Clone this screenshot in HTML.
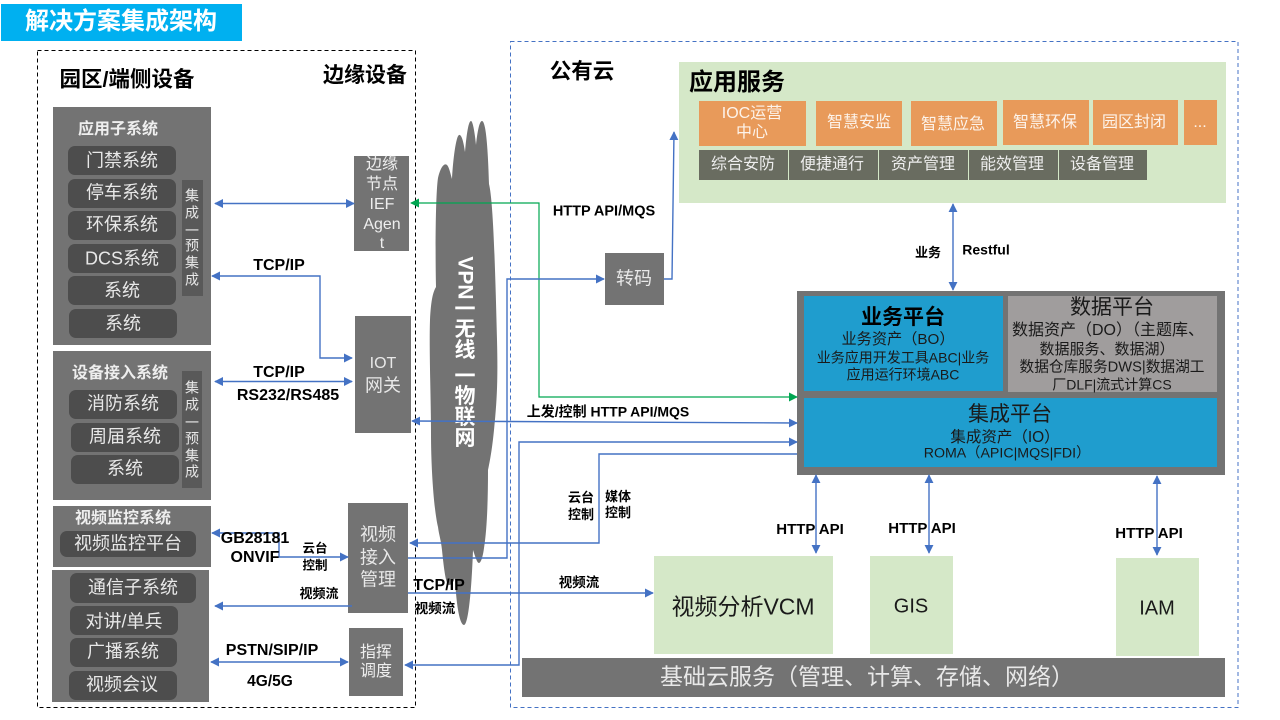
<!DOCTYPE html>
<html><head><meta charset="utf-8"><style>
html,body{margin:0;padding:0;background:#fff;width:1280px;height:720px;overflow:hidden}
svg{display:block}
text{font-family:"Liberation Sans","Noto Sans CJK SC",sans-serif;text-anchor:middle;dominant-baseline:central;transform:translateY(0.7px)}
.g{fill:#737373}.p{fill:#4d4d4d}.v{fill:#595959}
.w{fill:#e8e8e8;font-size:18px}
.h{fill:#eee;font-size:16px;font-weight:bold}
.vt{fill:#e8e8e8;font-size:14px}
.b{fill:#000;font-weight:bold}
.o{fill:#E89A5A}.d{fill:#696C60}
.ot{fill:#fdf3ea;font-size:16px}.dt{fill:#eee;font-size:16px}
.l{fill:#D5E8C8}
.k{fill:#1a1a1a}
.c{fill:none;stroke:#4472C4;stroke-width:1.4}
.gc{fill:none;stroke:#00A651;stroke-width:1.2}
</style></head><body>
<svg width="1280" height="720" viewBox="0 0 1280 720" xmlns="http://www.w3.org/2000/svg">
<defs>
<marker id="a" viewBox="0 0 10 10" refX="9" refY="5" markerWidth="9" markerHeight="9" markerUnits="userSpaceOnUse" orient="auto-start-reverse"><path d="M0 0L10 5L0 10z" fill="#4472C4"/></marker>
<marker id="g" viewBox="0 0 10 10" refX="9" refY="5" markerWidth="9" markerHeight="9" markerUnits="userSpaceOnUse" orient="auto-start-reverse"><path d="M0 0L10 5L0 10z" fill="#00A651"/></marker>
</defs>

<rect x="1" y="4" width="241" height="37" fill="#00B0F0"/>
<text x="121" y="21" fill="#fff" font-size="24" font-weight="bold">解决方案集成架构</text>

<rect x="37.5" y="50.5" width="378" height="657" fill="none" stroke="#000" stroke-dasharray="4 3"/>
<rect x="510.5" y="41.5" width="727.5" height="666" fill="none" stroke="#4472C4" stroke-dasharray="4 3"/>

<text class="b" x="127" y="79" font-size="21.5">园区/端侧设备</text>
<text class="b" x="365" y="75" font-size="21">边缘设备</text>
<text class="b" x="582" y="71" font-size="21.5">公有云</text>

<!-- block 1 -->
<rect class="g" x="53" y="107" width="158" height="238"/>
<text class="h" x="118" y="129">应用子系统</text>
<rect class="p" x="68" y="146" width="108" height="29" rx="7"/><text class="w" x="122" y="160">门禁系统</text>
<rect class="p" x="68" y="179" width="108" height="29" rx="7"/><text class="w" x="122" y="192">停车系统</text>
<rect class="p" x="68" y="211" width="108" height="29" rx="7"/><text class="w" x="122" y="224">环保系统</text>
<rect class="p" x="68" y="244" width="108" height="29" rx="7"/><text class="w" x="122" y="258">DCS系统</text>
<rect class="p" x="68" y="276" width="108" height="29" rx="7"/><text class="w" x="122" y="290">系统</text>
<rect class="p" x="69" y="309" width="108" height="29" rx="7"/><text class="w" x="123" y="323">系统</text>
<rect class="v" x="182" y="180" width="21" height="116"/>
<text class="vt" x="192" y="195">集</text><text class="vt" x="192" y="212">成</text><text class="vt" x="192" y="230">一</text><text class="vt" x="192" y="245">预</text><text class="vt" x="192" y="262">集</text><text class="vt" x="192" y="279">成</text>

<!-- block 2 -->
<rect class="g" x="53" y="351" width="158" height="149"/>
<text class="h" x="120" y="373">设备接入系统</text>
<rect class="p" x="69" y="390" width="108" height="29" rx="7"/><text class="w" x="123" y="403">消防系统</text>
<rect class="p" x="71" y="423" width="108" height="29" rx="7"/><text class="w" x="125" y="436">周届系统</text>
<rect class="p" x="71" y="455" width="108" height="29" rx="7"/><text class="w" x="125" y="468">系统</text>
<rect class="v" x="182" y="371" width="20" height="117"/>
<text class="vt" x="192" y="387">集</text><text class="vt" x="192" y="404">成</text><text class="vt" x="192" y="422">一</text><text class="vt" x="192" y="438">预</text><text class="vt" x="192" y="455">集</text><text class="vt" x="192" y="471">成</text>

<!-- block 3 -->
<rect class="g" x="53" y="506" width="158" height="61"/>
<text class="h" x="123" y="518">视频监控系统</text>
<rect class="p" x="60" y="531" width="136" height="26" rx="7"/><text class="w" x="128" y="543">视频监控平台</text>

<!-- block 4 -->
<rect class="g" x="52" y="570" width="157" height="132"/>
<rect class="p" x="70" y="573" width="126" height="30" rx="7"/><text class="w" x="133" y="587">通信子系统</text>
<rect class="p" x="70" y="606" width="108" height="29" rx="7"/><text class="w" x="124" y="621">对讲/单兵</text>
<rect class="p" x="70" y="638" width="107" height="29" rx="7"/><text class="w" x="123" y="651">广播系统</text>
<rect class="p" x="69" y="671" width="108" height="29" rx="7"/><text class="w" x="122" y="684">视频会议</text>

<!-- edge nodes -->
<rect class="g" x="354" y="156" width="55" height="95"/>
<text class="dt" x="382" y="164">边缘</text><text class="dt" x="382" y="184">节点</text><text class="dt" x="382" y="204">IEF</text><text class="dt" x="382" y="224">Agen</text><text class="dt" x="382" y="243">t</text>
<rect class="g" x="355" y="316" width="56" height="117"/>
<text class="w" x="383" y="363" style="font-size:16px">IOT</text><text class="w" x="383" y="385">网关</text>
<rect class="g" x="348" y="503" width="60" height="110"/>
<text class="w" x="378" y="534">视频</text><text class="w" x="378" y="557">接入</text><text class="w" x="378" y="579">管理</text>
<rect class="g" x="349" y="628" width="54" height="68"/>
<text class="dt" x="376" y="652">指挥</text><text class="dt" x="376" y="671">调度</text>

<!-- cloud -->
<path class="g" d="M436 287C435 240 436 190 438 178C441 165 445 163 447 165C449 167 450 172 452 179C453 160 456 136 459 135C462 134 464 145 465 152C466 140 468 121 471 121C473 121 475 135 476 145C477 135 479 121 482 121C486 121 488 150 489 184C493 200 495 260 497 340C498 380 497 400 494 430C492 450 490 460 488 470C488 500 487 530 484 548C483 556 481 563 479 563C477 563 475 556 473 550C472 580 469 625 464 625C459 625 456 600 455 578C453 583 451 585 449 585C446 585 444 570 442 550C441 540 439 535 438 527C434 510 431 470 431 433C431 400 429 350 430 320C431 300 433 292 436 287Z"/>
<text x="465" y="278" fill="#fff" font-size="21" font-weight="bold" style="transform-origin:465px 278px;transform:rotate(90deg)">VPN</text>
<text x="465" y="309" fill="#fff" font-size="21" font-weight="bold">一</text>
<text x="465" y="329" fill="#fff" font-size="21" font-weight="bold">无</text>
<text x="465" y="350" fill="#fff" font-size="21" font-weight="bold">线</text>
<text x="465" y="376" fill="#fff" font-size="21" font-weight="bold">一</text>
<text x="465" y="396" fill="#fff" font-size="21" font-weight="bold">物</text>
<text x="465" y="417" fill="#fff" font-size="21" font-weight="bold">联</text>
<text x="465" y="438" fill="#fff" font-size="21" font-weight="bold">网</text>

<rect class="g" x="605" y="253" width="59" height="52"/>
<text class="w" x="634" y="278">转码</text>

<!-- app services -->
<rect class="l" x="679" y="62" width="547" height="141"/>
<text class="b" x="737" y="82" font-size="24">应用服务</text>
<rect class="o" x="699" y="101" width="107" height="45"/><text class="ot" x="752" y="113">IOC运营</text><text class="ot" x="752" y="132">中心</text>
<rect class="o" x="816" y="101" width="86" height="45"/><text class="ot" x="859" y="122">智慧安监</text>
<rect class="o" x="911" y="101" width="86" height="45"/><text class="ot" x="953" y="124">智慧应急</text>
<rect class="o" x="1003" y="100" width="86" height="45"/><text class="ot" x="1045" y="122">智慧环保</text>
<rect class="o" x="1093" y="100" width="85" height="45"/><text class="ot" x="1134" y="122">园区封闭</text>
<rect class="o" x="1184" y="100" width="33" height="45"/><text class="ot" x="1200" y="122">...</text>
<rect class="d" x="699" y="150" width="89" height="30"/><text class="dt" x="743" y="164">综合安防</text>
<rect class="d" x="789" y="150" width="89" height="30"/><text class="dt" x="832" y="164">便捷通行</text>
<rect class="d" x="879" y="150" width="89" height="30"/><text class="dt" x="923" y="164">资产管理</text>
<rect class="d" x="969" y="150" width="89" height="30"/><text class="dt" x="1012" y="164">能效管理</text>
<rect class="d" x="1059" y="150" width="88" height="30"/><text class="dt" x="1102" y="164">设备管理</text>

<!-- platforms -->
<rect class="g" x="797" y="291" width="428" height="184"/>
<rect x="804" y="296" width="199" height="95" fill="#1F9DCE"/>
<rect x="1008" y="296" width="209" height="96" fill="#A09D9D"/>
<rect x="804" y="398" width="413" height="69" fill="#1F9DCE"/>
<text class="b" x="903" y="317" font-size="21">业务平台</text>
<text class="k" x="898" y="339" font-size="15.2">业务资产（BO）</text>
<text class="k" x="903" y="357" font-size="14">业务应用开发工具ABC|业务</text>
<text class="k" x="903" y="374" font-size="14">应用运行环境ABC</text>
<text class="k" x="1112" y="307" font-size="21">数据平台</text>
<text class="k" x="1108" y="330" font-size="16">数据资产（DO）（主题库、</text>
<text class="k" x="1107" y="349" font-size="15">数据服务、数据湖）</text>
<text class="k" x="1112" y="367" font-size="14.7">数据仓库服务DWS|数据湖工</text>
<text class="k" x="1112" y="384" font-size="14">厂DLF|流式计算CS</text>
<text class="k" x="1010" y="414" font-size="21">集成平台</text>
<text class="k" x="1005" y="437" font-size="15.5">集成资产（IO）</text>
<text class="k" x="1007" y="453" font-size="14.2">ROMA（APIC|MQS|FDI）</text>

<!-- lower services -->
<rect class="l" x="654" y="556" width="179" height="98"/>
<text class="k" x="743" y="606" font-size="23">视频分析VCM</text>
<rect class="l" x="870" y="556" width="83" height="98"/>
<text class="k" x="911" y="606" font-size="20">GIS</text>
<rect class="l" x="1116" y="558" width="83" height="98"/>
<text class="k" x="1157" y="608" font-size="20">IAM</text>
<rect class="g" x="522" y="658" width="703" height="39"/>
<text x="867" y="676" fill="#e8e8e8" font-size="23">基础云服务（管理、计算、存储、网络）</text>

<!-- connectors -->
<path class="c" d="M215 203.5H354" marker-start="url(#a)" marker-end="url(#a)"/>
<path class="c" d="M212 276H320V358H352" marker-start="url(#a)" marker-end="url(#a)"/>
<path class="c" d="M215 381.5H352" marker-start="url(#a)" marker-end="url(#a)"/>
<path class="c" d="M212 533H279V557H348" marker-start="url(#a)" marker-end="url(#a)"/>
<path class="c" d="M352 606H215" marker-end="url(#a)"/>
<path class="c" d="M211 662H348" marker-start="url(#a)" marker-end="url(#a)"/>
<path class="gc" d="M411 203H539V397H797" marker-start="url(#g)" marker-end="url(#g)"/>
<path class="c" d="M408 558H507V279H604" marker-end="url(#a)"/>
<path class="c" d="M664 279H672L674 132" marker-end="url(#a)"/>
<path class="c" d="M412 421L797 423" marker-start="url(#a)" marker-end="url(#a)"/>
<path class="c" d="M797 442H519V665H405" marker-end="url(#a)" marker-start="url(#a)"/>
<path class="c" d="M797 454H599V543H410" marker-end="url(#a)"/>
<path class="c" d="M408 593H653" marker-end="url(#a)"/>
<path class="c" d="M953 204V290" marker-start="url(#a)" marker-end="url(#a)"/>
<path class="c" d="M816 475V553" marker-start="url(#a)" marker-end="url(#a)"/>
<path class="c" d="M929 475V553" marker-start="url(#a)" marker-end="url(#a)"/>
<path class="c" d="M1157 476V555" marker-start="url(#a)" marker-end="url(#a)"/>

<!-- connector labels -->
<text class="b" x="279" y="265" font-size="16">TCP/IP</text>
<text class="b" x="279" y="372" font-size="16">TCP/IP</text>
<text class="b" x="288" y="395" font-size="16">RS232/RS485</text>
<text class="b" x="255" y="538" font-size="16">GB28181</text>
<text class="b" x="255" y="557" font-size="16">ONVIF</text>
<text class="b" x="315" y="548" font-size="12.5">云台</text>
<text class="b" x="315" y="565" font-size="12.5">控制</text>
<text class="b" x="319" y="593" font-size="13">视频流</text>
<text class="b" x="272" y="650" font-size="16">PSTN/SIP/IP</text>
<text class="b" x="270" y="681" font-size="15.5">4G/5G</text>
<text class="b" x="604" y="211" font-size="14.5">HTTP API/MQS</text>
<text class="b" x="608" y="411" font-size="14">上发/控制 HTTP API/MQS</text>
<text class="b" x="581" y="497" font-size="13">云台</text>
<text class="b" x="581" y="514" font-size="13">控制</text>
<text class="b" x="618" y="496" font-size="13">媒体</text>
<text class="b" x="618" y="512" font-size="13">控制</text>
<text class="b" x="439" y="585" font-size="16">TCP/IP</text>
<text class="b" x="435" y="608" font-size="13.5">视频流</text>
<text class="b" x="579" y="582" font-size="13.5">视频流</text>
<text class="b" x="928" y="252" font-size="13">业务</text>
<text class="b" x="986" y="249" font-size="14">Restful</text>
<text class="b" x="810" y="529" font-size="15">HTTP API</text>
<text class="b" x="922" y="528" font-size="15">HTTP API</text>
<text class="b" x="1149" y="533" font-size="15">HTTP API</text>
</svg>
</body></html>
